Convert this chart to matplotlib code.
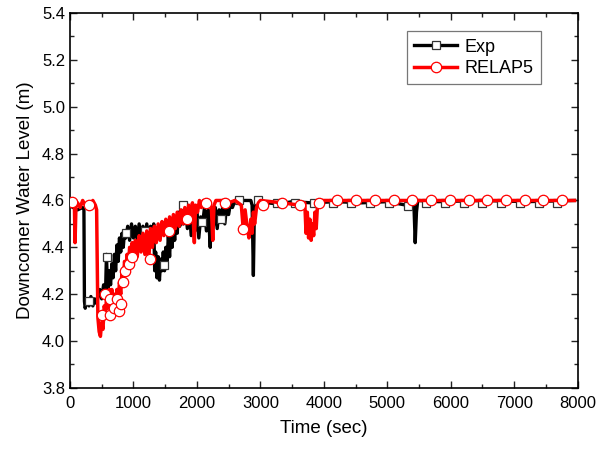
import matplotlib
matplotlib.use("Agg")
import matplotlib.pyplot as plt
from matplotlib.lines import Line2D
from matplotlib.ticker import MultipleLocator

# Exp (black) trace
exp_t = [50, 120, 200, 220, 228, 240, 270, 300, 330, 360, 390, 420, 450, 470,
         500, 530, 560, 575, 590, 600, 620, 640, 660, 680, 700, 720, 740, 760,
         780, 800, 820, 840, 860, 880, 910, 940, 970, 1000, 1030, 1060, 1090,
         1120, 1150, 1180, 1210, 1240, 1270, 1300, 1320, 1335, 1350, 1370, 1390,
         1410, 1430, 1450, 1470, 1490, 1510, 1530, 1550, 1570, 1590, 1610, 1630,
         1650, 1670, 1690, 1710, 1730, 1750, 1770, 1790, 1820, 1850, 1880, 1910,
         1940, 1970, 2000, 2030, 2060, 2090, 2120, 2150, 2180, 2210, 2230, 2260,
         2290, 2320, 2350, 2380, 2410, 2440, 2470, 2500, 2530, 2560, 2600, 2700,
         2850, 2870, 2890, 2905, 2920, 2950, 3100, 3300, 3500, 3800, 4200, 4600,
         5000, 5300, 5420, 5440, 5460, 5480, 5800, 6500, 7200, 7950]
exp_y = [4.57, 4.56, 4.57, 4.56, 4.17, 4.14, 4.18, 4.15, 4.19, 4.15, 4.18, 4.16,
         4.20, 4.22, 4.18, 4.24, 4.20, 4.37, 4.24, 4.22, 4.30, 4.24, 4.33, 4.27,
         4.37, 4.30, 4.41, 4.34, 4.44, 4.38, 4.46, 4.40, 4.47, 4.44, 4.49, 4.43,
         4.50, 4.44, 4.49, 4.43, 4.50, 4.44, 4.49, 4.43, 4.50, 4.44, 4.49, 4.45,
         4.50, 4.30, 4.38, 4.27, 4.36, 4.26, 4.35, 4.30, 4.38, 4.30, 4.40, 4.33,
         4.45, 4.36, 4.48, 4.40, 4.50, 4.43, 4.52, 4.46, 4.55, 4.49, 4.57, 4.58,
         4.50, 4.56, 4.48, 4.57, 4.45, 4.55, 4.47, 4.56, 4.44, 4.53, 4.50, 4.57,
         4.47, 4.56, 4.40, 4.55, 4.49, 4.57, 4.48, 4.56, 4.52, 4.58, 4.50, 4.58,
         4.54, 4.59, 4.57, 4.60, 4.60, 4.60, 4.58, 4.28, 4.55, 4.58, 4.60, 4.59,
         4.585, 4.595, 4.59, 4.595, 4.59, 4.595, 4.58, 4.58, 4.42, 4.55, 4.60,
         4.595, 4.60, 4.595, 4.60]

exp_mk_t = [295, 590, 880, 1190, 1486, 1775, 2080, 2376, 2666, 2960, 3255, 3550,
            3845, 4140, 4435, 4730, 5025, 5330, 5615, 5910, 6205, 6500, 6795,
            7090, 7385, 7680]
exp_mk_y = [4.17, 4.36, 4.46, 4.47, 4.325, 4.58, 4.51, 4.52, 4.60, 4.60, 4.59,
            4.59, 4.59, 4.59, 4.59, 4.59, 4.59, 4.575, 4.59, 4.59, 4.59, 4.59,
            4.59, 4.59, 4.59, 4.59]

# RELAP5 (red) trace
rel_t = [0, 40, 70, 80, 95, 120, 160, 200, 240, 280, 320, 360, 400, 420, 440,
         460, 480, 500, 520, 540, 560, 580, 600, 620, 640, 660, 680, 700, 720,
         740, 760, 780, 800, 820, 840, 860, 880, 900, 920, 940, 960, 980, 1000,
         1030, 1060, 1090, 1120, 1150, 1180, 1210, 1240, 1270, 1300, 1330, 1360,
         1390, 1420, 1450, 1480, 1510, 1540, 1570, 1600, 1630, 1660, 1690, 1720,
         1750, 1780, 1810, 1840, 1870, 1900, 1930, 1960, 1980, 2010, 2040, 2070,
         2100, 2130, 2160, 2200, 2230, 2250, 2270, 2300, 2450, 2500, 2600, 2700,
         2730, 2760, 2790, 2820, 2850, 2870, 2890, 2910, 2940, 2970, 3000, 3340,
         3620, 3700, 3720, 3740, 3760, 3780, 3800, 3820, 3840, 3860, 3880, 3900,
         3920, 5000, 6500, 7950]
rel_y = [4.60, 4.60, 4.58, 4.42, 4.58, 4.59, 4.57, 4.60, 4.58, 4.59, 4.57, 4.60,
         4.58, 4.56, 4.10, 4.04, 4.02, 4.08, 4.05, 4.15, 4.12, 4.20, 4.14, 4.22,
         4.16, 4.22, 4.15, 4.20, 4.14, 4.22, 4.17, 4.25, 4.20, 4.30, 4.26, 4.34,
         4.29, 4.37, 4.32, 4.40, 4.35, 4.42, 4.37, 4.43, 4.36, 4.45, 4.38, 4.46,
         4.37, 4.47, 4.34, 4.48, 4.40, 4.49, 4.42, 4.50, 4.43, 4.51, 4.45, 4.52,
         4.46, 4.53, 4.47, 4.54, 4.48, 4.55, 4.49, 4.56, 4.50, 4.57, 4.51, 4.58,
         4.52, 4.59, 4.42, 4.58, 4.55, 4.60, 4.57, 4.60, 4.58, 4.60, 4.59, 4.56,
         4.43, 4.58, 4.60, 4.60, 4.59, 4.60, 4.58, 4.48, 4.56, 4.49, 4.44, 4.52,
         4.46, 4.55, 4.50, 4.57, 4.59, 4.60, 4.59, 4.58, 4.59, 4.46, 4.55, 4.44,
         4.52, 4.43, 4.50, 4.45, 4.55, 4.48, 4.58, 4.60, 4.60, 4.60, 4.60]

rel_mk_t = [25, 300, 505, 556, 624, 635, 686, 738, 780, 806, 832, 874, 936, 978,
            1258, 1560, 1848, 2140, 2440, 2730, 3040, 3340, 3620, 3920, 4215,
            4510, 4805, 5100, 5395, 5690, 5985, 6280, 6575, 6870, 7165, 7460,
            7760]
rel_mk_y = [4.595, 4.58, 4.11, 4.20, 4.11, 4.18, 4.14, 4.18, 4.13, 4.16, 4.25,
            4.30, 4.33, 4.36, 4.35, 4.47, 4.52, 4.59, 4.59, 4.48, 4.58, 4.59,
            4.58, 4.59, 4.60, 4.60, 4.60, 4.60, 4.60, 4.60, 4.60, 4.60, 4.60,
            4.60, 4.60, 4.60, 4.60]

COLOR_EXP = "#000000"
COLOR_REL = "#FF0000"

plt.rcParams["font.family"] = ["Liberation Sans", "DejaVu Sans"]

fig = plt.figure(figsize=(5.98, 4.5), dpi=100)
ax = fig.add_axes([0.117, 0.138, 0.849, 0.833])

ax.plot(exp_t, exp_y, color=COLOR_EXP, lw=2.4, zorder=2)
ax.plot(exp_mk_t, exp_mk_y, ls="none", marker="s", ms=6, mfc="white",
        mec="#333333", mew=0.9, zorder=3)
ax.plot(rel_t, rel_y, color=COLOR_REL, lw=2.5, zorder=4)
ax.plot(rel_mk_t, rel_mk_y, ls="none", marker="o", ms=7.5, mfc="white",
        mec=COLOR_REL, mew=0.9, zorder=5)

ax.set_xlim(0, 8000)
ax.set_ylim(3.8, 5.4)
ax.xaxis.set_major_locator(MultipleLocator(1000))
ax.xaxis.set_minor_locator(MultipleLocator(500))
ax.yaxis.set_major_locator(MultipleLocator(0.2))
ax.yaxis.set_minor_locator(MultipleLocator(0.1))
ax.yaxis.set_major_formatter(plt.FormatStrFormatter("%.1f"))
ax.tick_params(which="both", direction="in", top=True, right=True,
               labelsize=12, color="#222222")
ax.tick_params(which="major", length=5, width=1.0)
ax.tick_params(which="minor", length=3, width=1.0)
ax.tick_params(axis="x", pad=6)
for s in ax.spines.values():
    s.set_linewidth(1.2)

ax.set_xlabel("Time (sec)", fontsize=13.5, labelpad=6)
ax.set_ylabel("Downcomer Water Level (m)", fontsize=13.5, labelpad=6)

handles = [
    Line2D([], [], color=COLOR_EXP, lw=2.4, marker="s", ms=6, mfc="white",
           mec="#333333", mew=0.9),
    Line2D([], [], color=COLOR_REL, lw=2.5, marker="o", ms=7.5, mfc="white",
           mec=COLOR_REL, mew=0.9),
]
leg = ax.legend(handles, ["Exp", "RELAP5"], loc="upper right",
                bbox_to_anchor=(0.945, 0.975), fontsize=13, fancybox=False,
                edgecolor="#555555", handlelength=2.4, borderpad=0.4,
                labelspacing=0.25, handletextpad=0.4)
leg.get_frame().set_linewidth(0.9)

fig.savefig("out.png", dpi=100)
